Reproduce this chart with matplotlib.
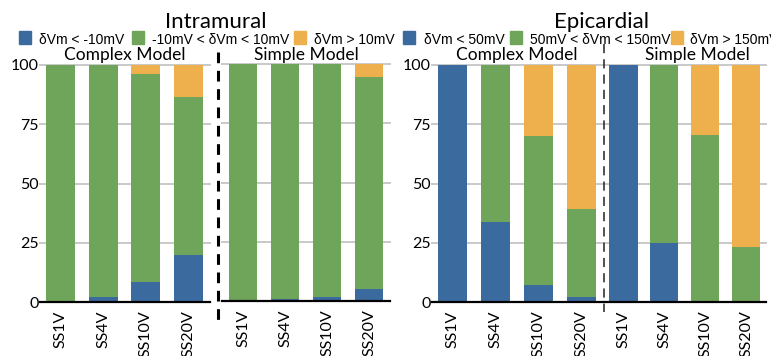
import matplotlib
matplotlib.use("Agg")
import matplotlib.pyplot as plt
from matplotlib.patches import Rectangle
import numpy as np

# ---- data (percent of sites in each band) ----
categories = ["SS1V", "SS4V", "SS10V", "SS20V"]

intra_complex_low = [0, 2.0, 8.3, 20.0]
intra_complex_mid = [100, 98.0, 87.9, 66.4]
intra_complex_high = [0, 0, 3.8, 13.6]

intra_simple_low = [0, 0.7, 1.8, 5.2]
intra_simple_mid = [100, 99.3, 98.2, 89.3]
intra_simple_high = [0, 0, 0, 5.5]

epi_complex_low = [100, 33.8, 7.3, 2.2]
epi_complex_mid = [0, 66.2, 62.6, 37.2]
epi_complex_high = [0, 0, 30.1, 60.6]

epi_simple_low = [100, 25.1, 0, 0]
epi_simple_mid = [0, 74.9, 70.6, 23.3]
epi_simple_high = [0, 0, 29.4, 76.7]

intra_labels = ["δVm < -10mV", "-10mV < δVm < 10mV", "δVm > 10mV"]
epi_labels = ["δVm < 50mV", "50mV < δVm < 150mV", "δVm > 150mV"]
yticks = [0, 25, 50, 75, 100]

colors = ["#3b6a9e", "#6ea55b", "#eeb04c"]

W, H = 771, 356
fig = plt.figure(figsize=(W / 100, H / 100), dpi=100)

MAIN = ["Lato", "DejaVu Sans"]
NARROW = ["Liberation Sans Narrow", "Liberation Sans", "DejaVu Sans"]


def fx(x):
    return x / W


def fy(y):
    return 1 - y / H


def add_panel_axes(x0, x1, ytop, ybot):
    return fig.add_axes([fx(x0), fy(ybot), fx(x1 - x0), (ybot - ytop) / H])


def draw_group(ax, low, mid, high, xlim, width, show_y):
    x = np.arange(len(categories))
    low = np.array(low, float)
    mid = np.array(mid, float)
    high = np.array(high, float)
    ax.bar(x, low, width, color=colors[0], zorder=2)
    ax.bar(x, mid, width, bottom=low, color=colors[1], zorder=2)
    ax.bar(x, high, width, bottom=low + mid, color=colors[2], zorder=2)
    ax.set_xlim(*xlim)
    ax.set_ylim(0, 100)
    ax.set_yticks(yticks)
    ax.yaxis.grid(True, color="#c9c9c9", linewidth=1.4)
    for gl in ax.get_ygridlines():
        gl.set_clip_on(False)
    ax.set_axisbelow(True)
    ax.axhline(0, color="black", linewidth=1.6, zorder=3, clip_on=False)
    for s in ax.spines.values():
        s.set_visible(False)
    ax.tick_params(axis="both", length=0)
    ax.set_xticks(x)
    ax.set_xticklabels(categories, rotation=90, family=MAIN, fontsize=11.5,
                       va="top", ha="center")
    ax.tick_params(axis="x", pad=6)
    if show_y:
        ax.set_yticklabels([str(t) for t in yticks], family=MAIN, fontsize=11.5)
        ax.tick_params(axis="y", pad=1)
    else:
        ax.set_yticklabels([])


YTOP, YBOT = 65, 302

# Intramural panel
ax1 = add_panel_axes(40, 210, YTOP, YBOT)
draw_group(ax1, intra_complex_low, intra_complex_mid, intra_complex_high,
           (-0.48, 3.50), 0.68, True)
ax2 = add_panel_axes(222, 390, YTOP - 1, YBOT - 1)
draw_group(ax2, intra_simple_low, intra_simple_mid, intra_simple_high,
           (-0.50, 3.50), 0.67, False)

# Epicardial panel
ax3 = add_panel_axes(432, 604, YTOP, YBOT)
draw_group(ax3, epi_complex_low, epi_complex_mid, epi_complex_high,
           (-0.477, 3.52), 0.67, True)
ax4 = add_panel_axes(604, 766, YTOP, YBOT)
draw_group(ax4, epi_simple_low, epi_simple_mid, epi_simple_high,
           (-0.478, 3.49), 0.69, False)

# titles
fig.text(fx(216), fy(28), "Intramural", family=MAIN, fontsize=16,
         ha="center", va="baseline")
fig.text(fx(602), fy(28), "Epicardial", family=MAIN, fontsize=16,
         ha="center", va="baseline")

# group labels
for xc, txt in [(125, "Complex Model"), (306, "Simple Model"),
                (517, "Complex Model"), (697, "Simple Model")]:
    fig.text(fx(xc), fy(60), txt, family=MAIN, fontsize=12.5,
             ha="center", va="baseline")


# legends
def legend_row(square_x, text_x, labels):
    for sx, tx, lab, c in zip(square_x, text_x, labels, colors):
        fig.patches.append(Rectangle((fx(sx), fy(44)), fx(12), 13 / H,
                                     transform=fig.transFigure,
                                     color=c, zorder=5))
        fig.text(fx(tx), fy(43.5), lab, family=NARROW, fontsize=10,
                 ha="left", va="baseline")


legend_row([19, 132, 294], [39, 152, 314], intra_labels)
legend_row([403, 510, 671], [424, 530, 690], epi_labels)

# separators between model groups
fig.add_artist(plt.Line2D([fx(218), fx(218)], [fy(52), fy(320)],
                          transform=fig.transFigure, color="black",
                          linewidth=2.2, linestyle=(0, (3.5, 2.5))))
fig.add_artist(plt.Line2D([fx(604), fx(604)], [fy(44), fy(312)],
                          transform=fig.transFigure, color="#222222",
                          linewidth=1.1, linestyle=(0, (6, 4))))

fig.savefig("out.png", dpi=100)
